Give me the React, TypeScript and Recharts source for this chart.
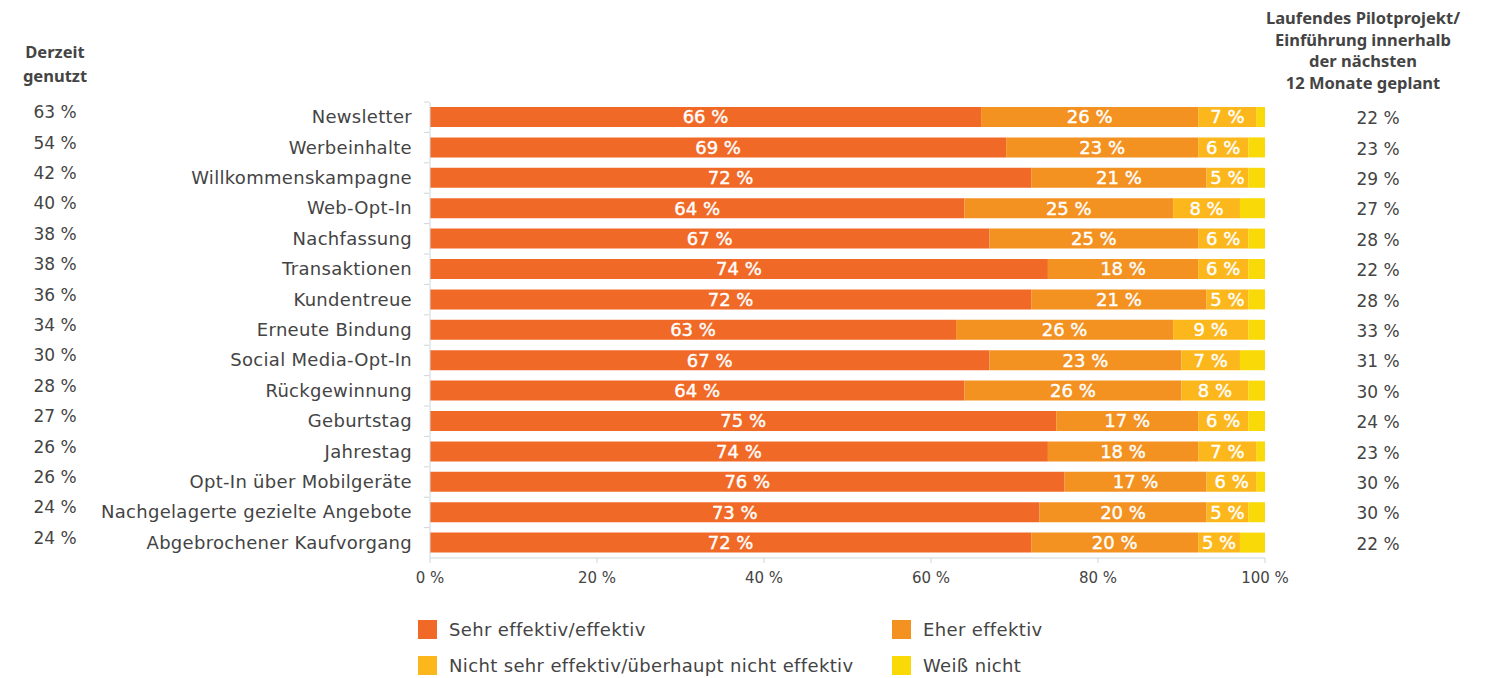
import { Bar, BarChart, LabelList, XAxis, YAxis } from "recharts";

const categories = [
  "Newsletter",
  "Werbeinhalte",
  "Willkommenskampagne",
  "Web-Opt-In",
  "Nachfassung",
  "Transaktionen",
  "Kundentreue",
  "Erneute Bindung",
  "Social Media-Opt-In",
  "Rückgewinnung",
  "Geburtstag",
  "Jahrestag",
  "Opt-In über Mobilgeräte",
  "Nachgelagerte gezielte Angebote",
  "Abgebrochener Kaufvorgang",
];

const sehrEffektiv = [66, 69, 72, 64, 67, 74, 72, 63, 67, 64, 75, 74, 76, 73, 72];
const eherEffektiv = [26, 23, 21, 25, 25, 18, 21, 26, 23, 26, 17, 18, 17, 20, 20];
const nichtEffektiv = [7, 6, 5, 8, 6, 6, 5, 9, 7, 8, 6, 7, 6, 5, 5];
const weissNicht = [1, 2, 2, 3, 2, 2, 2, 2, 3, 2, 2, 2, 2, 2, 3];

const derzeitGenutzt = [63, 54, 42, 40, 38, 38, 36, 34, 30, 28, 27, 26, 26, 24, 24];
const geplant = [22, 23, 29, 27, 28, 22, 28, 33, 31, 30, 24, 23, 30, 30, 22];

const xTicks = [0, 20, 40, 60, 80, 100];

const series = [
  { key: "sehr", name: "Sehr effektiv/effektiv", color: "#f16926", label: true },
  { key: "eher", name: "Eher effektiv", color: "#f39121", label: true },
  { key: "nicht", name: "Nicht sehr effektiv/überhaupt nicht effektiv", color: "#fbb71b", label: true },
  { key: "weiss", name: "Weiß nicht", color: "#f9d908", label: false },
];

const data = categories.map((name, i) => ({
  name,
  sehr: sehrEffektiv[i],
  eher: eherEffektiv[i],
  nicht: nichtEffektiv[i],
  weiss: weissNicht[i],
}));

const font = "'DejaVu Sans', 'Noto Sans', sans-serif";
const headFont = "'Noto Sans', 'Open Sans', sans-serif";
const textColor = "#444";
const axisColor = "#cdd6db";

const chartHeight = 588;
const marginTop = 102;
const xAxisHeight = 30;
const halfBand = (chartHeight - marginTop - xAxisHeight) / categories.length / 2;

function CategoryTick(props: any) {
  const { x, y, payload, index } = props;
  return (
    <g>
      <line x1={424} x2={429} y1={y - halfBand} y2={y - halfBand} stroke={axisColor} />
      <text x={x} y={y} dy={6} textAnchor="end" fill={textColor} fontSize={18} letterSpacing={0.3} fontFamily={font}>
        {payload.value}
      </text>
      <text x={55} y={y} dy={1} textAnchor="middle" fill={textColor} fontSize={17} fontFamily={font}>
        {derzeitGenutzt[index]} %
      </text>
      <text x={1378} y={y} dy={7} textAnchor="middle" fill={textColor} fontSize={17} fontFamily={font}>
        {geplant[index]} %
      </text>
    </g>
  );
}

export default function App() {
  return (
    <div
      style={{
        position: "absolute",
        left: 0,
        top: 0,
        width: 1493,
        height: 678,
        background: "#fff",
        fontFamily: font,
        color: textColor,
      }}
    >
      <div
        style={{
          position: "absolute",
          left: 0,
          width: 110,
          top: 40,
          textAlign: "center",
          fontWeight: 700,
          fontSize: 16.5,
          lineHeight: "24px",
          fontFamily: headFont,
        }}
      >
        Derzeit
        <br />
        genutzt
      </div>
      <div
        style={{
          position: "absolute",
          left: 1253,
          width: 220,
          top: 7,
          textAlign: "center",
          fontWeight: 700,
          fontSize: 16.5,
          lineHeight: "21.5px",
          fontFamily: headFont,
        }}
      >
        Laufendes Pilotprojekt/
        <br />
        Einführung innerhalb
        <br />
        der nächsten
        <br />
        12 Monate geplant
      </div>

      <div style={{ position: "absolute", left: 0, top: 0 }}>
        <BarChart
          width={1493}
          height={chartHeight}
          data={data}
          layout="vertical"
          margin={{ top: marginTop, right: 228, bottom: 0, left: 0 }}
          barSize={20}
        >
          <XAxis
            type="number"
            domain={[0, 100]}
            ticks={xTicks}
            allowDataOverflow
            tickFormatter={(v) => `${v} %`}
            stroke={axisColor}
            tickSize={5}
            tickMargin={9}
            height={xAxisHeight}
            tick={{ fill: textColor, fontSize: 15, fontFamily: font }}
          />
          <YAxis
            type="category"
            dataKey="name"
            width={430}
            stroke={axisColor}
            tickLine={false}
            tickSize={0}
            tickMargin={18}
            interval={0}
            tick={<CategoryTick />}
          />
          {series.map((s) => (
            <Bar key={s.key} dataKey={s.key} name={s.name} stackId="a" fill={s.color} isAnimationActive={false}>
              {s.label && (
                <LabelList
                  dataKey={s.key}
                  position="center"
                  fill="#fff"
                  stroke="#fff"
                  strokeWidth={0.4}
                  fontSize={18}
                  fontFamily={font}
                  formatter={(v: any) => `${v} %`}
                />
              )}
            </Bar>
          ))}
        </BarChart>
      </div>

      <div
        style={{
          position: "absolute",
          left: 418,
          top: 620,
          display: "grid",
          gridTemplateColumns: "474px 300px",
          rowGap: 17,
          fontSize: 18,
          letterSpacing: 0.35,
        }}
      >
        {series.map((s) => (
          <div key={s.key} style={{ display: "flex", alignItems: "center", height: 19 }}>
            <span style={{ width: 19, height: 19, background: s.color, marginRight: 12, display: "inline-block", flexShrink: 0 }} />
            <span style={{ whiteSpace: "nowrap" }}>{s.name}</span>
          </div>
        ))}
      </div>
    </div>
  );
}
